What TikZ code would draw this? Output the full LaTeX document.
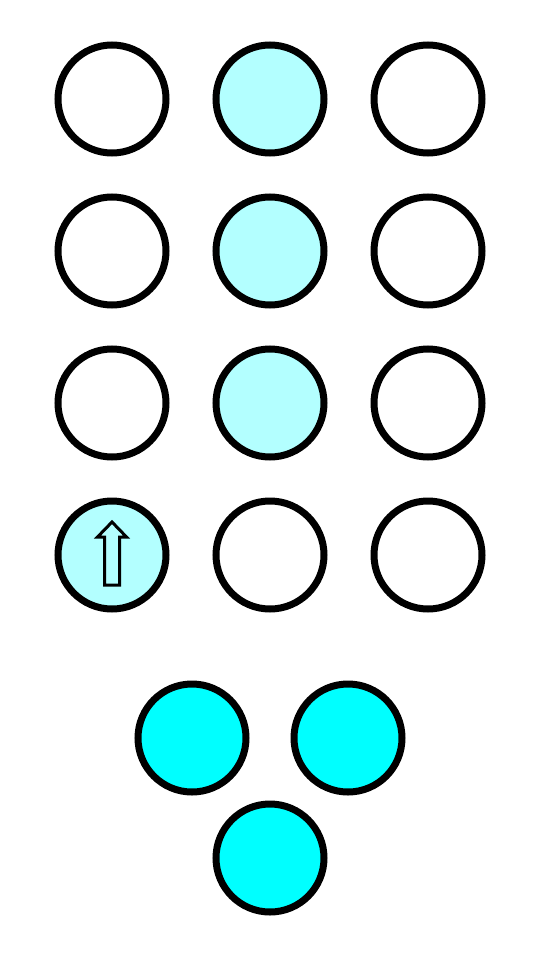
\documentclass[tikz,border=0pt]{standalone}
\definecolor{lightcyan}{HTML}{B3FFFF}
\definecolor{fullcyan}{HTML}{00FFFF}
\begin{document}
\begin{tikzpicture}[x=1pt,y=-1pt,
  dot/.style={circle,draw=black,line width=7pt,minimum size=108pt,inner sep=0pt,fill=white},
  ldot/.style={dot,fill=lightcyan},
  cdot/.style={dot,fill=fullcyan}]
\useasboundingbox (0,0) rectangle (540,960);
\node[dot]  (a1) at (112,99) {};
\node[ldot] (a2) at (270,99) {};
\node[dot]  (a3) at (428,99) {};
\node[dot]  (b1) at (112,251) {};
\node[ldot] (b2) at (270,251) {};
\node[dot]  (b3) at (428,251) {};
\node[dot]  (c1) at (112,403) {};
\node[ldot] (c2) at (270,403) {};
\node[dot]  (c3) at (428,403) {};
\node[ldot] (d1) at (112,555) {};
\node[dot]  (d2) at (270,555) {};
\node[dot]  (d3) at (428,555) {};
\node[cdot] (e1) at (192,738) {};
\node[cdot] (e2) at (348,738) {};
\node[cdot] (e3) at (270,858) {};
\draw[line width=3pt,line join=miter,fill=lightcyan] ([shift={(0,-33)}]d1.center) -- ++(14.5,15) -- ++(-7,0) -- ++(0,48) -- ++(-15,0) -- ++(0,-48) -- ++(-7,0) -- cycle;
\end{tikzpicture}
\end{document}
